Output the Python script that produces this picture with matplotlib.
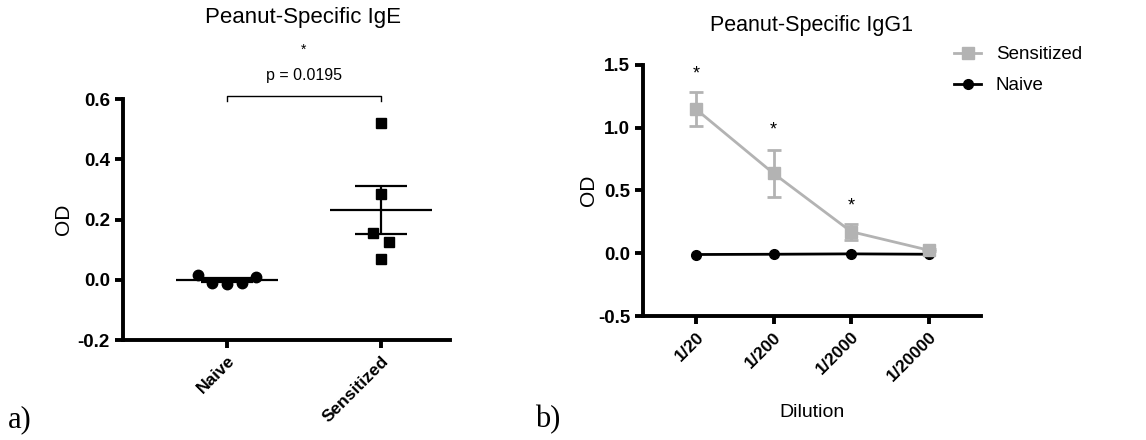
import matplotlib
matplotlib.use("Agg")
import matplotlib.pyplot as plt
from matplotlib.lines import Line2D
import numpy as np

# ── Data ──────────────────────────────────────────────────────────────────────
IGE_GROUPS      = ["Naive", "Sensitized"]
IGE_NAIVE       = [0.015, -0.009, -0.013, -0.009, 0.011]
IGE_NAIVE_JIT   = [-0.19, -0.1, 0.0, 0.1, 0.19]
IGE_SENS        = [0.521, 0.284, 0.157, 0.127, 0.070]
IGE_SENS_JIT    = [0.0, 0.0, -0.05, 0.05, 0.0]
IGE_P_TEXT      = "p = 0.0195"

DILUTIONS       = ["1/20", "1/200", "1/2000", "1/20000"]
IGG1_SENS       = [1.148, 0.636, 0.172, 0.024]
IGG1_SENS_ERR   = [0.135, 0.19, 0.065, 0.01]
IGG1_NAIVE      = [-0.01, -0.008, -0.005, -0.008]
IGG1_STAR_AT    = [1.43, 0.98, 0.38]

# ── Style ─────────────────────────────────────────────────────────────────────
GREY  = "#b3b3b3"
BLACK = "#000000"
SANS  = "Liberation Sans"
SERIF = "Liberation Serif"
plt.rcParams["font.family"] = SANS

W, H = 1146, 440
fig = plt.figure(figsize=(W / 100, H / 100), dpi=100)


def style_axes(ax):
    for side in ("top", "right"):
        ax.spines[side].set_visible(False)
    for side in ("left", "bottom"):
        ax.spines[side].set_linewidth(2.8)
    ax.tick_params(width=2.8, length=6)
    ax.tick_params(axis="y", labelsize=13.5)
    ax.tick_params(axis="x", labelsize=12.5)
    for lab in ax.get_yticklabels():
        lab.set_fontweight("bold")


# ── a) IgE scatter ────────────────────────────────────────────────────────────
ax1 = fig.add_axes([123 / W, 100 / H, 327 / W, 240.7 / H])
x_naive = 0 + np.array(IGE_NAIVE_JIT)
x_sens = 1 + np.array(IGE_SENS_JIT)
ax1.plot(x_naive, IGE_NAIVE, "o", color=BLACK, markersize=7.5, clip_on=False, zorder=3)
ax1.plot(x_sens, IGE_SENS, "s", color=BLACK, markersize=7.5, clip_on=False, zorder=3)

for i, vals in enumerate([IGE_NAIVE, IGE_SENS]):
    m = np.mean(vals)
    sem = np.std(vals, ddof=1) / np.sqrt(len(vals))
    ax1.hlines(m, i - 0.33, i + 0.33, color=BLACK, linewidth=1.6, zorder=2)
    ax1.errorbar(i, m, yerr=sem, color=BLACK, linewidth=1.6,
                 capsize=19, capthick=1.6, zorder=2)

ax1.set_xlim(-0.675, 1.448)
ax1.set_ylim(-0.2, 0.6)
ax1.set_yticks([-0.2, 0.0, 0.2, 0.4, 0.6])
ax1.set_yticklabels(["-0.2", "0.0", "0.2", "0.4", "0.6"])
ax1.set_xticks([0, 1])
ax1.set_xticklabels(IGE_GROUPS, rotation=45, ha="right", rotation_mode="anchor",
                    fontweight="bold")
style_axes(ax1)
ax1.set_ylabel("OD", fontsize=15)
ax1.yaxis.set_label_coords(-0.153, 0.5)
fig.text(303 / W, 1 - 18 / H, "Peanut-Specific IgE", fontsize=16,
         ha="center", va="center")

# significance bracket
ax1.plot([0, 0, 1, 1], [0.596, 0.611, 0.611, 0.596], color=BLACK,
         linewidth=1.0, clip_on=False)
ax1.text(0.5, 0.68, IGE_P_TEXT, ha="center", va="center", fontsize=11.5)
ax1.text(0.5, 0.765, "*", ha="center", va="center", fontsize=10)

fig.text(8 / W, 1 - 420 / H, "a)", family=SERIF, fontsize=22,
         ha="left", va="center")

# ── b) IgG1 dilution curve ────────────────────────────────────────────────────
ax2 = fig.add_axes([643.3 / W, 124 / H, 337.4 / W, 251 / H])
xs = np.arange(len(DILUTIONS))
ax2.errorbar(xs, IGG1_SENS, yerr=IGG1_SENS_ERR, color=GREY, marker="s",
             markersize=8, linewidth=2, capsize=5, capthick=2, zorder=3)
ax2.plot(xs, IGG1_NAIVE, color=BLACK, marker="o", markersize=7,
         linewidth=2, zorder=2)
for x, y in zip(xs, IGG1_STAR_AT):
    ax2.text(x, y, "*", ha="center", va="center", fontsize=13)

ax2.set_xlim(-0.678, 3.668)
ax2.set_ylim(-0.5, 1.5)
ax2.set_yticks([-0.5, 0.0, 0.5, 1.0, 1.5])
ax2.set_yticklabels(["-0.5", "0.0", "0.5", "1.0", "1.5"])
ax2.set_xticks(xs)
ax2.set_xticklabels(DILUTIONS, rotation=45, ha="right", rotation_mode="anchor",
                    fontweight="bold")
style_axes(ax2)
ax2.set_ylabel("OD", fontsize=15)
ax2.yaxis.set_label_coords(-0.134, 0.5)
ax2.set_xlabel("Dilution", fontsize=14, labelpad=14)
fig.text(812 / W, 1 - 25 / H, "Peanut-Specific IgG1", fontsize=15.5,
         ha="center", va="center")

handles = [
    Line2D([], [], color=GREY, marker="s", markersize=8, linewidth=2),
    Line2D([], [], color=BLACK, marker="o", markersize=7, linewidth=2),
]
ax2.legend(handles, ["Sensitized", "Naive"], loc="upper left",
           bbox_to_anchor=(0.9, 1.105), frameon=False, fontsize=13.5,
           handlelength=1.4, handletextpad=0.8, labelspacing=0.75,
           borderaxespad=0)

fig.text(535 / W, 1 - 420 / H, "b)", family=SERIF, fontsize=22,
         ha="left", va="center")

fig.savefig("out.png", dpi=100)
